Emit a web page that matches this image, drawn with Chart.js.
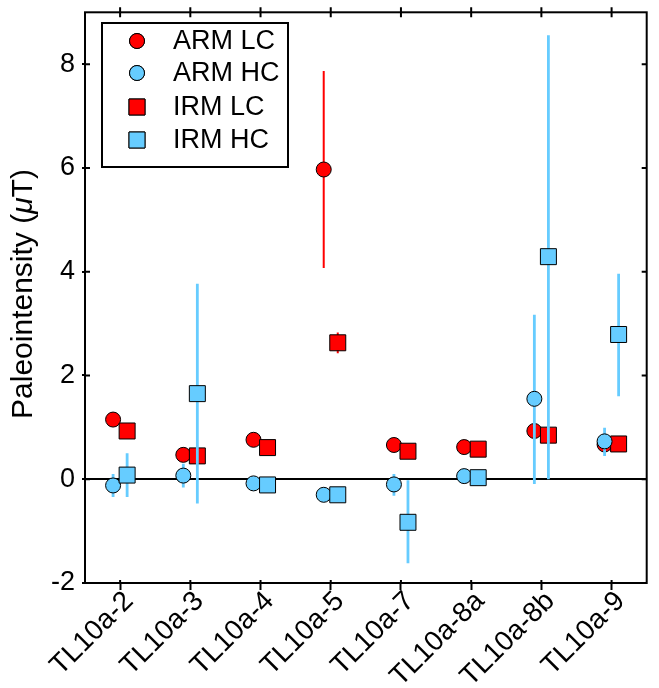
<!DOCTYPE html>
<html>
<head>
    <title>Paleointensity</title>
    <script src="https://cdn.jsdelivr.net/npm/chart.js@4.4.0/dist/chart.umd.min.js"></script>
    <style>
        body { margin: 0; background: #fff; }
        #wrap { width: 659px; height: 688px; }
    </style>
</head>
<body>
    <div id="wrap"><canvas id="paleoChart" width="659" height="688"></canvas></div>

    <script>
        // samples along the x axis
        const categories = ['TL10a-2', 'TL10a-3', 'TL10a-4', 'TL10a-5', 'TL10a-7', 'TL10a-8a', 'TL10a-8b', 'TL10a-9'];
        const yTicks = [-2, 0, 2, 4, 6, 8];

        // values (uT), null = no visible error bar
        const armLC     = [1.15, 0.47, 0.76, 5.97, 0.66, 0.62, 0.93, 0.67];
        const armLCLow  = [null, null, null, 4.07, null, null, null, null];
        const armLCHigh = [null, null, null, 7.87, null, null, null, null];

        const irmLC     = [0.93, 0.45, 0.61, 2.63, 0.54, 0.58, 0.85, 0.68];
        const irmLCLow  = [null, null, null, 2.43, null, null, null, null];
        const irmLCHigh = [null, null, null, 2.83, null, null, null, null];

        const armHC     = [-0.12, 0.07, -0.08, -0.30, -0.10, 0.06, 1.55, 0.73];
        const armHCLow  = [-0.34, -0.16, null, null, -0.32, null, -0.09, 0.45];
        const armHCHigh = [0.10, 0.30, null, null, 0.10, null, 3.17, 0.99];

        const irmHC     = [0.08, 1.65, -0.11, -0.30, -0.83, 0.03, 4.29, 2.79];
        const irmHCLow  = [-0.34, -0.47, null, null, -1.62, null, 0.00, 1.60];
        const irmHCHigh = [0.50, 3.77, null, null, -0.02, null, 8.56, 3.96];

        const RED = '#ff0000';
        const BLUE = 'rgb(102,204,255)';
        const FONT = "'Liberation Sans', Arial, Helvetica, sans-serif";

        function points(vals, off) {
            return vals.map((v, i) => ({ x: i + off, y: v }));
        }

        // vertical segments separated by null gaps
        function errSegments(lo, hi, off) {
            const out = [];
            lo.forEach((l, i) => {
                if (l === null) return;
                out.push({ x: i + off, y: l }, { x: i + off, y: hi[i] }, { x: i + off, y: null });
            });
            return out;
        }

        function errSet(lo, hi, off, color, w, order) {
            return {
                type: 'line', label: '_err', data: errSegments(lo, hi, off),
                showLine: true, spanGaps: false, borderColor: color, borderWidth: w,
                pointRadius: 0, order: order
            };
        }

        function markerSet(label, vals, off, color, style, r, order) {
            return {
                label: label, data: points(vals, off), pointStyle: style,
                pointRadius: r, backgroundColor: color, borderColor: '#000',
                borderWidth: 1, showLine: false, order: order
            };
        }

        const datasets = [
            errSet(armLCLow, armLCHigh, -0.1, RED, 2, 8),
            errSet(irmLCLow, irmLCHigh, 0.1, RED, 2, 8),
            markerSet('ARM LC', armLC, -0.1, RED, 'circle', 7.5, 6),
            markerSet('IRM LC', irmLC, 0.1, RED, 'rect', 11.3, 5),
            errSet(armHCLow, armHCHigh, -0.1, BLUE, 2.8, 4),
            errSet(irmHCLow, irmHCHigh, 0.1, BLUE, 2.8, 4),
            markerSet('ARM HC', armHC, -0.1, BLUE, 'circle', 7.5, 3),
            markerSet('IRM HC', irmHC, 0.1, BLUE, 'rect', 11.3, 2)
        ];

        // frame, inner ticks, boxed legend and the y title with italic mu
        const decorPlugin = {
            id: 'decor',
            afterDraw(chart) {
                const ctx = chart.ctx;
                const a = chart.chartArea;
                const xs = chart.scales.x, ys = chart.scales.y;
                ctx.save();
                ctx.strokeStyle = '#000';
                ctx.lineWidth = 2;
                ctx.strokeRect(a.left, a.top, a.right - a.left, a.bottom - a.top);
                ctx.beginPath();
                categories.forEach((c, i) => {
                    const px = xs.getPixelForValue(i);
                    ctx.moveTo(px, a.top - 5); ctx.lineTo(px, a.top + 5);
                    ctx.moveTo(px, a.bottom - 3); ctx.lineTo(px, a.bottom);
                });
                yTicks.forEach(v => {
                    const py = ys.getPixelForValue(v);
                    ctx.moveTo(a.left, py); ctx.lineTo(a.left + 5, py);
                    ctx.moveTo(a.right - 5, py); ctx.lineTo(a.right, py);
                });
                ctx.stroke();

                // legend
                ctx.strokeRect(102, 23, 186, 144);
                const rows = [['ARM LC', 41], ['ARM HC', 73], ['IRM LC', 107], ['IRM HC', 140]];
                ctx.font = '27px ' + FONT;
                ctx.textBaseline = 'middle';
                ctx.textAlign = 'left';
                rows.forEach(([lab, y]) => {
                    const ds = chart.data.datasets.find(d => d.label === lab);
                    ctx.fillStyle = ds.backgroundColor;
                    ctx.strokeStyle = '#000';
                    ctx.lineWidth = 1;
                    Chart.helpers.drawPoint(ctx, { pointStyle: ds.pointStyle, radius: ds.pointRadius, borderWidth: 1 }, 137, y);
                    ctx.fill();
                    ctx.stroke();
                    ctx.fillStyle = '#000';
                    ctx.fillText(lab, 173, y + 1);
                });

                // y axis title
                const parts = [['Paleointensity (', '30px ' + FONT], ['\u03bc', 'italic 30px ' + FONT], ['T)', '30px ' + FONT]];
                let total = 0;
                parts.forEach(p => { ctx.font = p[1]; total += ctx.measureText(p[0]).width; });
                ctx.translate(32, 294);
                ctx.rotate(-Math.PI / 2);
                ctx.textBaseline = 'alphabetic';
                let x = -total / 2;
                parts.forEach(p => {
                    ctx.font = p[1];
                    ctx.fillText(p[0], x, 0);
                    x += ctx.measureText(p[0]).width;
                });
                ctx.restore();
            }
        };

        const ctx = document.getElementById('paleoChart').getContext('2d');
        new Chart(ctx, {
            type: 'scatter',
            data: { datasets: datasets },
            options: {
                responsive: false,
                animation: false,
                layout: { padding: { top: 10, right: 2, left: 0, bottom: 0 } },
                plugins: { legend: { display: false }, tooltip: { enabled: false } },
                scales: {
                    x: {
                        type: 'linear', min: -0.5, max: 7.5,
                        afterBuildTicks: s => { s.ticks = categories.map((c, i) => ({ value: i })); },
                        afterFit: s => { s.height = 105; s.paddingLeft = 0; s.paddingRight = 0; },
                        border: { display: false },
                        grid: { drawOnChartArea: false, tickLength: 7, tickColor: '#000', tickWidth: 2 },
                        ticks: {
                            autoSkip: false, minRotation: 45, maxRotation: 45, padding: -5, labelOffset: 9,
                            color: '#000', font: { family: FONT, size: 28 },
                            callback: v => categories[v]
                        }
                    },
                    y: {
                        min: -2, max: 9,
                        afterBuildTicks: s => { s.ticks = yTicks.map(v => ({ value: v })); },
                        afterFit: s => { s.width = 85; s.paddingTop = 0; s.paddingBottom = 0; },
                        border: { display: false },
                        grid: {
                            tickLength: 3, tickColor: '#000', tickWidth: 2,
                            color: c => c.tick && c.tick.value === 0 ? '#000' : 'rgba(0,0,0,0)',
                            lineWidth: 2
                        },
                        ticks: { padding: 7, color: '#000', font: { family: FONT, size: 27 } }
                    }
                }
            },
            plugins: [decorPlugin]
        });
    </script>
</body>
</html>
